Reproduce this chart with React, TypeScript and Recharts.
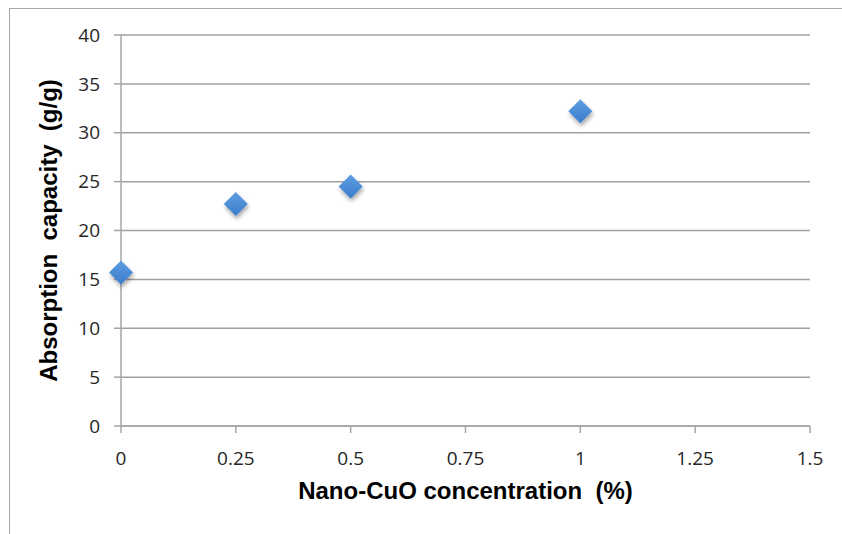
import { ScatterChart, Scatter, XAxis, YAxis, CartesianGrid, Label } from "recharts";

const concentration = [0, 0.25, 0.5, 1];
const absorption = [15.7, 22.7, 24.5, 32.2];
const xTicks = [0, 0.25, 0.5, 0.75, 1, 1.25, 1.5];
const yTicks = [0, 5, 10, 15, 20, 25, 30, 35, 40];

const points = concentration.map((c, i) => ({ x: c, y: absorption[i] }));

const tickStyle = { fill: "#262626", fontSize: 19, fontFamily: "'Open Sans', sans-serif" };
const titleFont = "'Liberation Sans', Arial, sans-serif";

function Diamond(props: any) {
  const { cx, cy } = props;
  const r = 12;
  return (
    <polygon
      points={`${cx},${cy - r} ${cx + r},${cy} ${cx},${cy + r} ${cx - r},${cy}`}
      fill="url(#markerFill)"
      filter="url(#markerShadow)"
    />
  );
}

export default function App() {
  return (
    <div style={{ position: "absolute", left: 0, top: 0, width: 842, height: 534, background: "#fff" }}>
      <div
        style={{
          position: "absolute",
          left: 9,
          top: 8,
          right: 0,
          bottom: 0,
          borderLeft: "1.5px solid #a8a8a8",
          borderTop: "1.5px solid #a8a8a8",
        }}
      />
      <ScatterChart
        width={842}
        height={534}
        margin={{ top: 35, right: 32, bottom: 0, left: 0 }}
        style={{ position: "absolute", left: 0, top: 0 }}
      >
        <defs>
          <linearGradient id="markerFill" x1="0" y1="0" x2="0" y2="1">
            <stop offset="0%" stopColor="#5d9de2" />
            <stop offset="100%" stopColor="#3b7dcb" />
          </linearGradient>
          <filter id="markerShadow" x="-50%" y="-50%" width="200%" height="200%">
            <feDropShadow dx="1" dy="3" stdDeviation="2" floodColor="#000" floodOpacity="0.35" />
          </filter>
        </defs>
        <CartesianGrid vertical={false} stroke="#a0a0a0" strokeWidth={1.5} />
        <XAxis
          type="number"
          dataKey="x"
          domain={[0, 1.5]}
          ticks={xTicks}
          interval={0}
          stroke="#a6a6a6"
          strokeWidth={1.5}
          tickSize={7}
          tickMargin={19}
          tick={tickStyle}
          height={108}
        >
          <Label
            value={"Nano-CuO concentration\u00a0 (%)"}
            position="insideTop"
            offset={56}
            style={{ fill: "#000", fontSize: 24, fontWeight: "bold", fontFamily: titleFont }}
          />
        </XAxis>
        <YAxis
          type="number"
          dataKey="y"
          domain={[0, 40]}
          ticks={yTicks}
          interval={0}
          stroke="#a6a6a6"
          strokeWidth={1.5}
          tickSize={7}
          tickMargin={14}
          tick={tickStyle}
          width={121}
        >
          <Label
            value={"Absorption\u00a0 capacity\u00a0 (g/g)"}
            angle={-90}
            position="insideLeft"
            offset={48}
            style={{ fill: "#000", fontSize: 24, fontWeight: "bold", fontFamily: titleFont, textAnchor: "middle" }}
          />
        </YAxis>
        <Scatter data={points} shape={<Diamond />} isAnimationActive={false} />
      </ScatterChart>
    </div>
  );
}
